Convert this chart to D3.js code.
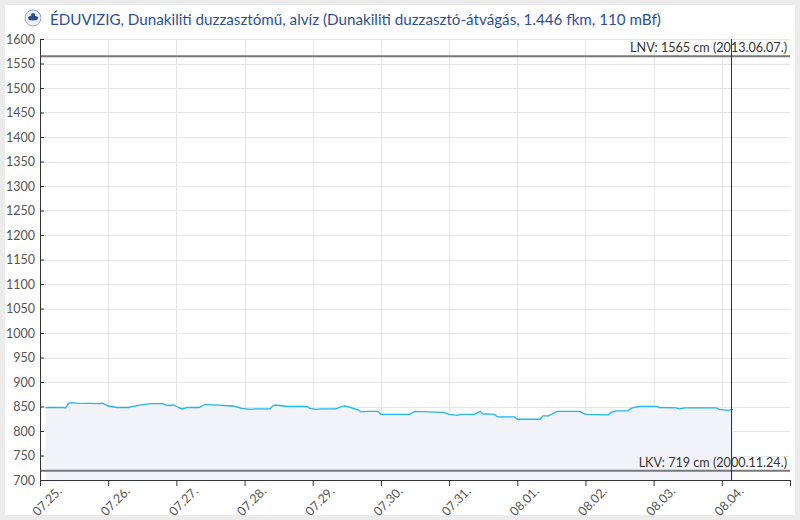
<!DOCTYPE html>
<html>
<head>
<meta charset="utf-8">
<script src="https://cdn.jsdelivr.net/npm/d3@7"></script>
<style>
  body { margin: 0; background: #ececec; font-family: Lato, "Open Sans", sans-serif; }
  svg { display: block; }
  .tick text { fill: #555; font-size: 12.5px; font-family: Lato, sans-serif; }
</style>
</head>
<body>
<svg width="800" height="520"></svg>
<script>
// vízállás adatok (cm), idő: hónap.nap óra:perc
const times = [
  "07.25 02:00","07.25 08:00","07.25 09:00","07.25 10:00","07.25 11:00","07.25 13:00",
  "07.25 21:00","07.25 22:00","07.26 00:00","07.26 03:00","07.26 07:00","07.26 11:00",
  "07.26 15:00","07.26 19:00","07.26 21:00","07.26 23:00","07.27 00:00","07.27 02:00",
  "07.27 04:00","07.27 08:00","07.27 10:00","07.27 15:00","07.27 17:00","07.27 20:00",
  "07.27 23:00","07.28 02:00","07.28 04:00","07.28 09:00","07.28 10:00","07.28 11:00",
  "07.28 15:00","07.28 22:00","07.28 23:00","07.29 01:00","07.29 03:00","07.29 08:00",
  "07.29 11:00","07.29 12:00","07.29 16:00","07.29 17:00","07.29 19:00","07.29 23:00",
  "07.30 00:00","07.30 10:00","07.30 12:00","07.30 22:00","07.31 00:00","07.31 03:00",
  "07.31 04:00","07.31 09:00","07.31 11:00","07.31 12:00","07.31 13:00","07.31 16:00",
  "07.31 17:00","07.31 23:00","08.01 00:00","08.01 08:00","08.01 09:00","08.01 11:00",
  "08.01 14:00","08.01 22:00","08.02 00:00","08.02 08:00","08.02 09:00","08.02 11:00",
  "08.02 15:00","08.02 16:00","08.02 18:00","08.02 19:00","08.03 01:00","08.03 02:00",
  "08.03 08:00","08.03 09:00","08.03 11:00","08.03 22:00","08.03 23:00","08.04 02:00",
  "08.04 04:00"
];
const levels = [
  848,848,847,856,858,857,
  856,857,851,848,848,853,
  856,856,852,853,850,845,
  848,848,854,853,852,851,
  846,844,845,845,852,853,
  850,850,846,844,845,845,
  851,850,843,839,840,840,
  834,834,840,838,834,832,
  834,834,840,834,835,834,
  829,829,824,824,831,831,
  840,840,834,833,838,841,
  841,846,849,850,850,848,
  847,845,847,847,844,842,
  844
];
const dayTicks = ["07.25","07.26","07.27","07.28","07.29","07.30","07.31","08.01","08.02","08.03","08.04"];
const yTicks = d3.range(700, 1601, 50);
const lnv = 1565, lnvText = "LNV: 1565 cm (2013.06.07.)";
const lkv = 719, lkvText = "LKV: 719 cm (2000.11.24.)";
const nowTime = "08.04 03:15";
const title = "ÉDUVIZIG, Dunakiliti duzzasztómű, alvíz (Dunakiliti duzzasztó-átvágás, 1.446 fkm, 110 mBf)";

const parse = d3.timeParse("%Y.%m.%d %H:%M");
const p = s => parse("2023." + s);
const data = times.map((t, i) => ({ t: p(t), v: levels[i] }));

const svg = d3.select("svg");
// fehér panel
svg.append("rect").attr("x", 5).attr("y", 5).attr("width", 790).attr("height", 510).attr("fill", "#fff");

const mLeft = 40, mRight = 790, mTop = 39, mBottom = 480;

const x = d3.scaleTime()
  .domain([p("07.25 00:00"), p("08.05 00:00")])
  .range([mLeft, mRight]);
const y = d3.scaleLinear()
  .domain([700, 1600])
  .range([mBottom, mTop]);

// rács
const grid = svg.append("g");
grid.selectAll(".hg").data(yTicks).join("line")
  .attr("x1", mLeft).attr("x2", mRight)
  .attr("y1", d => Math.round(y(d)) + 0.5).attr("y2", d => Math.round(y(d)) + 0.5)
  .attr("stroke", "#e6e6e6");
grid.selectAll(".vg").data(dayTicks).join("line")
  .attr("x1", d => Math.round(x(p(d + " 00:00"))) + 0.5).attr("x2", d => Math.round(x(p(d + " 00:00"))) + 0.5)
  .attr("y1", mTop).attr("y2", mBottom)
  .attr("stroke", "#e6e6e6");

// terület + vonal
const area = d3.area().x(d => x(d.t)).y0(y(700)).y1(d => y(d.v));
const line = d3.line().x(d => x(d.t)).y(d => y(d.v));
svg.append("path").datum(data).attr("d", area).attr("fill", "#f2f3f8");
svg.append("path").datum(data).attr("d", line)
  .attr("fill", "none").attr("stroke", "#22b6ee").attr("stroke-width", 1.3);

// LNV / LKV
[[lnv, lnvText], [lkv, lkvText]].forEach(([v, txt]) => {
  svg.append("line").attr("x1", mLeft).attr("x2", mRight)
    .attr("y1", y(v)).attr("y2", y(v))
    .attr("stroke", "#777").attr("stroke-width", 2);
  svg.append("text").attr("x", mRight - 3).attr("y", y(v) - 4)
    .attr("text-anchor", "end").attr("fill", "#333")
    .style("font-size", "12.6px").text(txt);
});

// most vonal
svg.append("line")
  .attr("x1", Math.round(x(p(nowTime))) + 0.5).attr("x2", Math.round(x(p(nowTime))) + 0.5)
  .attr("y1", mTop).attr("y2", mBottom)
  .attr("stroke", "#333").attr("stroke-width", 1);

// tengelyek
const yAxis = svg.append("g").attr("transform", "translate(" + mLeft + ",0)")
  .call(d3.axisRight(y).tickValues(yTicks).tickSize(4).tickFormat(d3.format("d")));
yAxis.select(".domain").attr("stroke", "#333");
yAxis.selectAll(".tick line").attr("stroke", "#333");
yAxis.selectAll(".tick text").attr("text-anchor", "end").attr("x", -5).attr("dy", "0.35em");

const fmt = d3.timeFormat("%m.%d.");
const xAxis = svg.append("g").attr("transform", "translate(0," + mBottom + ")")
  .call(d3.axisBottom(x).tickValues(dayTicks.map(d => p(d + " 00:00")).concat([p("08.05 00:00")]))
    .tickSize(6).tickSizeOuter(0).tickFormat(d => dayTicks.includes(d3.timeFormat("%m.%d")(d)) ? fmt(d) : ""));
xAxis.select(".domain").attr("stroke", "#333");
xAxis.selectAll(".tick line").attr("stroke", "#333");
xAxis.selectAll(".tick text")
  .attr("text-anchor", "end").attr("y", 0).attr("dy", 0)
  .attr("transform", "translate(22,12) rotate(-45)");

// cím + logó
const logo = svg.append("g").attr("transform", "translate(33,18)");
logo.append("circle").attr("r", 8).attr("fill", "#eef1f6").attr("stroke", "#9aa6bd");
logo.append("ellipse").attr("rx", 5).attr("ry", 2.5).attr("fill", "#2d4f94");
logo.append("circle").attr("cy", -3).attr("r", 2).attr("fill", "#2d4f94");
svg.append("text").attr("x", 50).attr("y", 25)
  .attr("fill", "#2d4f94").style("font-size", "15.2px").text(title);
</script>
</body>
</html>
